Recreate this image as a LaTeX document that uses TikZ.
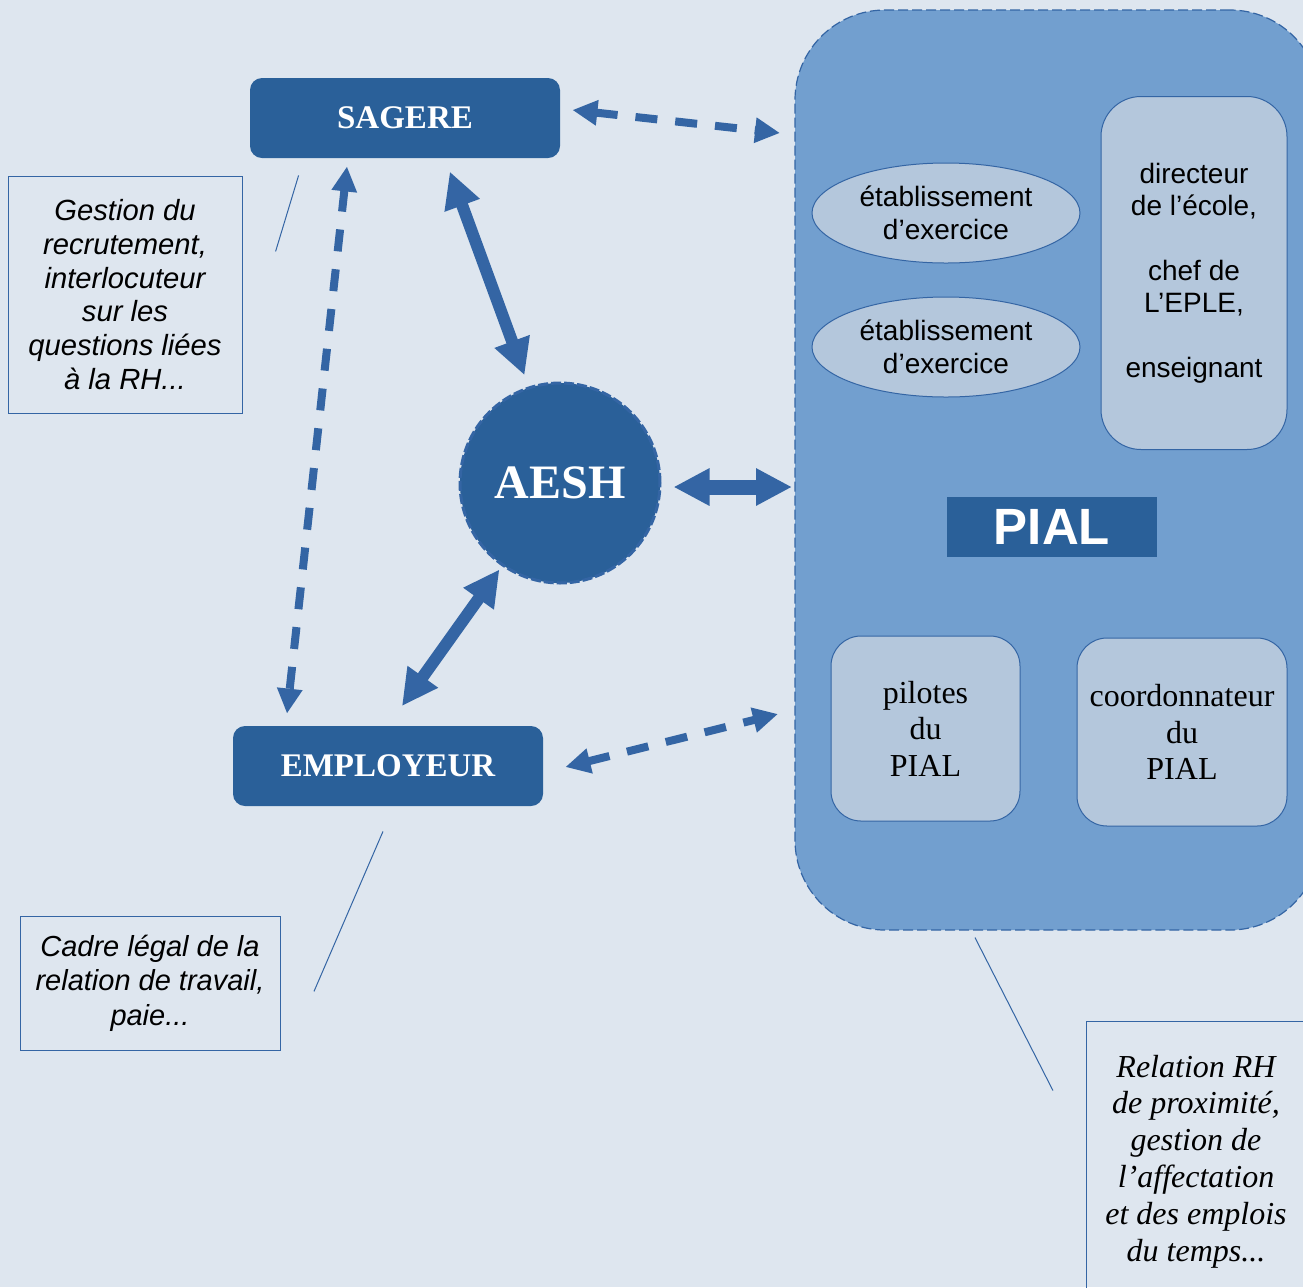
\documentclass[tikz,border=0pt]{standalone}
\usepackage{fontspec}
\setmainfont{Liberation Serif}
\setsansfont{Liberation Sans}
\usetikzlibrary{arrows.meta, shapes.geometric}
\definecolor{fond}{HTML}{DEE6EF}
\definecolor{bleuf}{HTML}{2A6099}
\definecolor{bleum}{HTML}{3465A4}
\definecolor{bleuc}{HTML}{729FCF}
\definecolor{bleup}{HTML}{B4C7DC}

\begin{document}
\begin{tikzpicture}[x=0.5pt, y=-0.5pt,
  titre/.style={fill=bleuf, rounded corners=6pt, text=white, inner sep=0pt, minimum width=155pt, minimum height=40pt, font=\fontsize{16.5}{20}\selectfont\bfseries},
  ovale/.style={ellipse, draw=bleum, line width=0.5pt, fill=bleup, inner sep=0pt, minimum width=134pt, minimum height=50pt, align=center, font=\sffamily\fontsize{14}{16.5}\selectfont},
  boite/.style={draw=bleum, line width=0.5pt, fill=bleup, inner sep=0pt, align=center},
  note/.style={draw=bleum, line width=0.5pt, inner sep=0pt, align=center},
  pointille/.style={bleum, line width=4pt, dash pattern=on 11pt off 9pt, {Triangle[length=12.5pt,width=12pt]}-{Triangle[length=12.5pt,width=12pt]}},
  fleche/.style={bleum, line width=6pt, {Triangle[length=18pt,width=17.5pt]}-{Triangle[length=18pt,width=17.5pt]}},
  trait/.style={bleum, line width=0.5pt}]
% fond
\fill[fond] (0,0) rectangle (1303,1287);
\useasboundingbox (0,0) rectangle (1303,1287);
% PIAL
\node[draw=bleum, dash pattern=on 5pt off 2pt, line width=0.6pt, fill=bleuc, rounded corners=45pt, minimum width=262.5pt, minimum height=460pt, inner sep=0pt] (pial) at (1057.5,470) {};
\node[fill=bleuf, text=white, inner sep=0pt, minimum width=105pt, minimum height=30pt, font=\sffamily\bfseries\fontsize{25.5}{30}\selectfont] (pialtxt) at (1052,527) {PIAL};
\node[ovale] (etab1) at (946,213) {établissement\\d’exercice};
\node[ovale] (etab2) at (946,347) {établissement\\d’exercice};
\node[boite, rounded corners=20pt, minimum width=93pt, minimum height=176.5pt, font=\sffamily\fontsize{14}{16.2}\selectfont] (direct) at (1194,273) {directeur\\de l’école,\\~\\chef de\\L’EPLE,\\~\\enseignant};
\node[boite, rounded corners=15pt, minimum width=94.5pt, minimum height=92.5pt, font=\fontsize{16}{18.3}\selectfont] (pilotes) at (925.5,728.5) {pilotes\\du\\PIAL};
\node[boite, rounded corners=15pt, minimum width=105pt, minimum height=94pt, font=\fontsize{16}{18.3}\selectfont] (coord) at (1182,732) {coordonnateur\\du\\PIAL};
% acteurs
\node[titre] (sagere) at (405,118) {SAGERE};
\node[titre] (employeur) at (388,766) {EMPLOYEUR};
\node[circle, fill=bleuf, draw=bleum, line width=1.5pt, dash pattern=on 5pt off 1.5pt, minimum size=100pt, inner sep=0pt, text=white, font=\bfseries\fontsize{24}{28}\selectfont] (aesh) at (560,483) {AESH};
% bords du PIAL
\coordinate (pA) at (780,133);
\coordinate (pB) at (792,487);
\coordinate (pC) at (778,714);
% fleches
\draw[pointille] ([shift={(12,-8)}]sagere.east) -- (pA);
\draw[pointille] ([shift={(-58,8)}]sagere.south) -- ([shift={(-101,-12)}]employeur.north);
\draw[pointille] ([shift={(22,1)}]employeur.east) -- (pC);
\draw[fleche, shorten <=7pt, shorten >=6pt] ([shift={(40,0)}]sagere.south) -- (aesh.108);
\draw[fleche, shorten <=2pt, shorten >=12pt] (aesh.235) -- (employeur.north);
\draw[fleche, line width=7.5pt, shorten <=6pt] ([shift={(0,4)}]aesh.east) -- (pB);
% notes
\node[note, minimum width=117pt, minimum height=118.5pt, font=\sffamily\itshape\fontsize{14.6}{16.9}\selectfont] (gestion) at (125,294.5) {Gestion du\\recrutement,\\interlocuteur\\sur les\\questions liées\\à la RH...};
\node[note, minimum width=130pt, minimum height=67pt, font=\sffamily\itshape\fontsize{14.5}{17.2}\selectfont] (cadre) at (150,983) {Cadre légal de la\\relation de travail,\\paie...};
\node[note, minimum width=110pt, minimum height=137pt, font=\itshape\fontsize{16}{18.4}\selectfont, text depth=0pt] (relation) at (1196,1158) {Relation RH\\de proximité,\\gestion de\\l’affectation\\et des emplois\\du temps...};
\draw[trait] ([shift={(49,17)}]sagere.south west) -- ++(-23,76);
\draw[trait] ([shift={(-5,25)}]employeur.south) -- ++(-69,160);
\draw[trait] ([shift={(-82.5,7)}]pial.south) -- ++(78,153);
\end{tikzpicture}
\end{document}
